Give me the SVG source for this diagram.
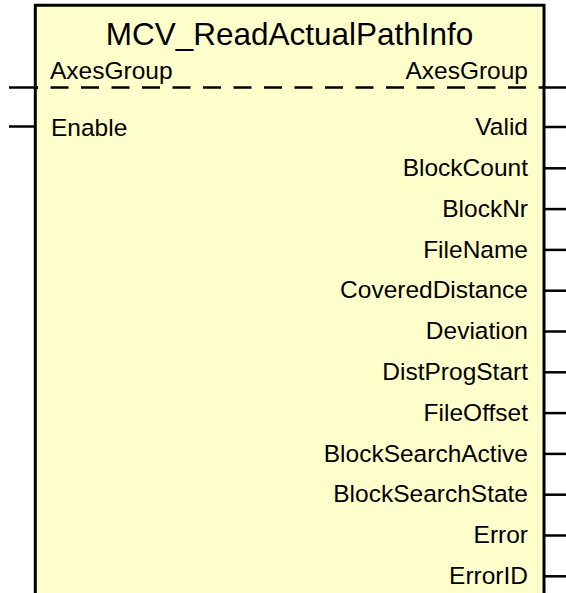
<svg xmlns="http://www.w3.org/2000/svg" width="566" height="593" viewBox="0 0 566 593">
<style>
.box{fill:#FFFFCC;stroke:#000;stroke-width:3}
.pin{stroke:#000;stroke-width:2.5;fill:none}
.dash{stroke:#000;stroke-width:2.5;fill:none;stroke-dasharray:18 12.5;stroke-dashoffset:14}
.t{font-family:"Liberation Sans",Arial,sans-serif;font-size:24.5px;fill:#000}
.r{text-anchor:end}
.title{font-family:"Liberation Sans",Arial,sans-serif;font-size:31.5px;fill:#000;text-anchor:middle}
</style>
<rect width="566" height="593" fill="#fff"/>
<g id="block">
<path class="box" d="M35.3,600 V5.3 H544 V600"/>
<text class="title" x="289.5" y="45">MCV_ReadActualPathInfo</text>
</g>
<g id="connectors">
<line class="pin" x1="9" y1="87.5" x2="38" y2="87.5"/>
<line class="dash" x1="34" y1="87.5" x2="539" y2="87.5"/>
<line class="pin" x1="539" y1="87.5" x2="566" y2="87.5"/>
<line class="pin" x1="9" y1="126.5" x2="35" y2="126.5"/>
<g id="outs">
<line class="pin" x1="544" y1="127" x2="566" y2="127"/>
<line class="pin" x1="544" y1="168.3" x2="566" y2="168.3"/>
<line class="pin" x1="544" y1="209.1" x2="566" y2="209.1"/>
<line class="pin" x1="544" y1="249.9" x2="566" y2="249.9"/>
<line class="pin" x1="544" y1="290.7" x2="566" y2="290.7"/>
<line class="pin" x1="544" y1="331.5" x2="566" y2="331.5"/>
<line class="pin" x1="544" y1="372.3" x2="566" y2="372.3"/>
<line class="pin" x1="544" y1="413.1" x2="566" y2="413.1"/>
<line class="pin" x1="544" y1="453.9" x2="566" y2="453.9"/>
<line class="pin" x1="544" y1="494.7" x2="566" y2="494.7"/>
<line class="pin" x1="544" y1="535.5" x2="566" y2="535.5"/>
<line class="pin" x1="544" y1="576.3" x2="566" y2="576.3"/>
</g>
</g>
<g id="inputs">
<text class="t" x="50" y="79">AxesGroup</text>
<text class="t" x="51" y="135.5">Enable</text>
</g>
<g id="outputs">
<text class="t r" x="528" y="79">AxesGroup</text>
<text class="t r" x="528" y="135">Valid</text>
<text class="t r" x="528" y="176">BlockCount</text>
<text class="t r" x="528" y="216.8">BlockNr</text>
<text class="t r" x="528" y="257.6">FileName</text>
<text class="t r" x="528" y="298.4">CoveredDistance</text>
<text class="t r" x="528" y="339.2">Deviation</text>
<text class="t r" x="528" y="380">DistProgStart</text>
<text class="t r" x="528" y="420.8">FileOffset</text>
<text class="t r" x="528" y="461.6">BlockSearchActive</text>
<text class="t r" x="528" y="502.4">BlockSearchState</text>
<text class="t r" x="528" y="543.2">Error</text>
<text class="t r" x="528" y="584">ErrorID</text>
</g>
</svg>
